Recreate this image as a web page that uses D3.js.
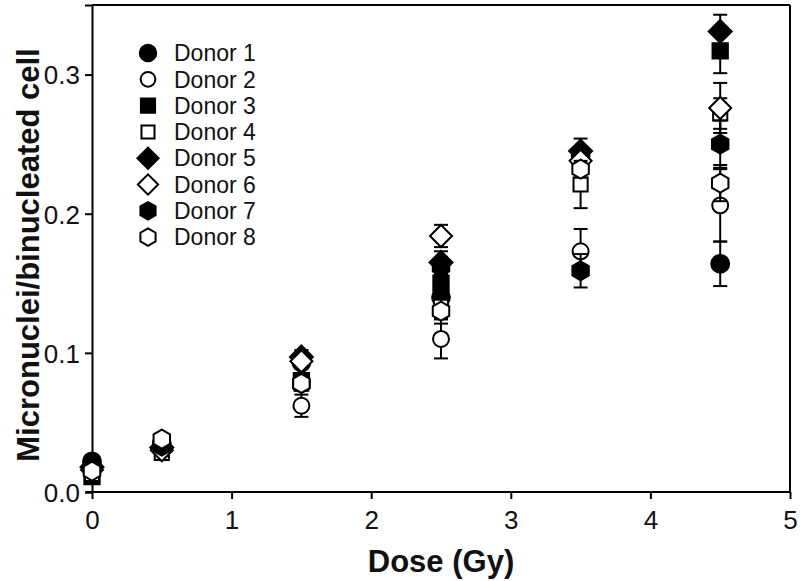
<!DOCTYPE html>
<html><head><meta charset="utf-8">
<script src="https://cdn.jsdelivr.net/npm/d3@7"></script>
<style>body{margin:0;background:#fff}svg{display:block;font-family:"Liberation Sans",Arial,sans-serif}</style>
</head><body><svg id="c" width="800" height="581"></svg>
<script>
const doses = [0, 0.5, 1.5, 2.5, 3.5, 4.5];
const donorNames = ["Donor 1","Donor 2","Donor 3","Donor 4","Donor 5","Donor 6","Donor 7","Donor 8"];
const donor1 = [0.022, 0.035, 0.093, 0.140, 0.242, 0.164];
const donor2 = [0.016, 0.037, 0.062, 0.110, 0.173, 0.206];
const donor3 = [0.011, 0.034, 0.080, 0.150, 0.240, 0.317];
const donor4 = [0.013, 0.028, 0.078, 0.133, 0.221, 0.272];
const donor5 = [0.018, 0.032, 0.097, 0.165, 0.245, 0.331];
const donor6 = [0.016, 0.030, 0.094, 0.184, 0.238, 0.276];
const donor7 = [0.020, 0.033, 0.078, 0.162, 0.159, 0.250];
const donor8 = [0.015, 0.038, 0.078, 0.130, 0.232, 0.222];
const err1 = [0.003, 0.003, 0.004, 0.008, 0.006, 0.016];
const err2 = [0.003, 0.003, 0.008, 0.014, 0.016, 0.026];
const err3 = [0.003, 0.003, 0.005, 0.008, 0.006, 0.016];
const err4 = [0.003, 0.003, 0.005, 0.008, 0.017, 0.011];
const err5 = [0.003, 0.003, 0.005, 0.008, 0.009, 0.012];
const err6 = [0.003, 0.003, 0.005, 0.008, 0.006, 0.018];
const err7 = [0.003, 0.003, 0.005, 0.006, 0.012, 0.017];
const err8 = [0.003, 0.003, 0.005, 0.009, 0.006, 0.013];
const xTicks = [0, 1, 2, 3, 4, 5];
const yTicks = [0.0, 0.1, 0.2, 0.3];

const values = [donor1,donor2,donor3,donor4,donor5,donor6,donor7,donor8];
const errors = [err1,err2,err3,err4,err5,err6,err7,err8];

// custom symbols
const diamondSym = {draw(ctx, size){ const r = Math.sqrt(size)/2; ctx.moveTo(0,-r); ctx.lineTo(r,0); ctx.lineTo(0,r); ctx.lineTo(-r,0); ctx.closePath(); }};
const hexSym = {draw(ctx, size){ const r = Math.sqrt(size)/2; for(let i=0;i<6;i++){const a=-Math.PI/2+i*Math.PI/3; const px=r*Math.cos(a), py=r*Math.sin(a); if(i===0) ctx.moveTo(px,py); else ctx.lineTo(px,py);} ctx.closePath(); }};
const styles = [
  {type:d3.symbolCircle, size:250, fill:true},
  {type:d3.symbolCircle, size:200, fill:false},
  {type:d3.symbolSquare, size:235, fill:true},
  {type:d3.symbolSquare, size:200, fill:false},
  {type:diamondSym, size:23*23, fill:true},
  {type:diamondSym, size:22*22, fill:false},
  {type:hexSym, size:19*19, fill:true},
  {type:hexSym, size:19*19, fill:false}
];

const svg = d3.select("#c");
const x = d3.scaleLinear().domain([0,5]).range([92,790]);
const y = d3.scaleLinear().domain([0,0.35]).range([492,5]);

// frame
svg.append("line").attr("x1",x(0)).attr("x2",x(5)).attr("y1",y(0.35)).attr("y2",y(0.35)).attr("stroke","#000").attr("stroke-width",2);
svg.append("line").attr("x1",x(5)).attr("x2",x(5)).attr("y1",y(0.35)).attr("y2",y(0)).attr("stroke","#000").attr("stroke-width",2);

const xAxis = svg.append("g").attr("transform",`translate(0,${y(0)})`)
  .call(d3.axisBottom(x).tickValues(xTicks).tickFormat(d3.format("d")).tickSizeOuter(0).tickSize(7).tickPadding(12));
const yAxis = svg.append("g").attr("transform",`translate(${x(0)},0)`)
  .call(d3.axisLeft(y).tickValues(yTicks).tickFormat(d3.format(".1f")).tickSizeOuter(0).tickSize(7).tickPadding(5));
[xAxis,yAxis].forEach(g=>{
  g.select(".domain").attr("stroke-width",2);
  g.selectAll(".tick line").attr("stroke-width",2);
  g.selectAll(".tick text").attr("font-size",26).attr("fill","#111").attr("font-family","Liberation Sans, Arial, sans-serif");
});
xAxis.select(".domain").attr("d",`M${x(0)-6},0H${x(5)}`);
yAxis.selectAll(".tick text").attr("dy","0.36em");

// error bars + markers
values.forEach((vals,i)=>{
  const g = svg.append("g");
  const st = styles[i];
  vals.forEach((v,j)=>{
    const e = errors[i][j];
    const cx = x(doses[j]);
    g.append("line").attr("x1",cx).attr("x2",cx).attr("y1",y(v-e)).attr("y2",y(v+e)).attr("stroke","#000").attr("stroke-width",2);
    [v-e, v+e].forEach(t=>g.append("line").attr("x1",cx-7).attr("x2",cx+7).attr("y1",y(t)).attr("y2",y(t)).attr("stroke","#000").attr("stroke-width",2));
  });
  g.selectAll("path.m").data(vals).enter().append("path")
    .attr("d",d3.symbol().type(st.type).size(st.size))
    .attr("transform",(d,j)=>`translate(${x(doses[j])},${y(d)})`)
    .attr("fill",st.fill?"#000":"#fff").attr("stroke","#000").attr("stroke-width",2);
});

// legend
const leg = svg.append("g");
donorNames.forEach((n,i)=>{
  const ly = 53 + i*26.3;
  const st = styles[i];
  leg.append("path").attr("d",d3.symbol().type(st.type).size(st.size*0.85))
    .attr("transform",`translate(148,${ly})`)
    .attr("fill",st.fill?"#000":"#fff").attr("stroke","#000").attr("stroke-width",2);
  leg.append("text").attr("x",174).attr("y",ly).attr("dy","0.36em").attr("font-size",23).attr("fill","#111").text(n);
});

// titles
svg.append("text").attr("x",441).attr("y",572).attr("text-anchor","middle")
  .attr("font-size",31).attr("font-weight","bold").attr("fill","#111").text("Dose (Gy)");
svg.append("text").attr("transform","translate(39,255) rotate(-90)").attr("text-anchor","middle")
  .attr("font-size",31).attr("font-weight","bold").attr("fill","#111").text("Micronuclei/binucleated cell");
</script></body></html>
